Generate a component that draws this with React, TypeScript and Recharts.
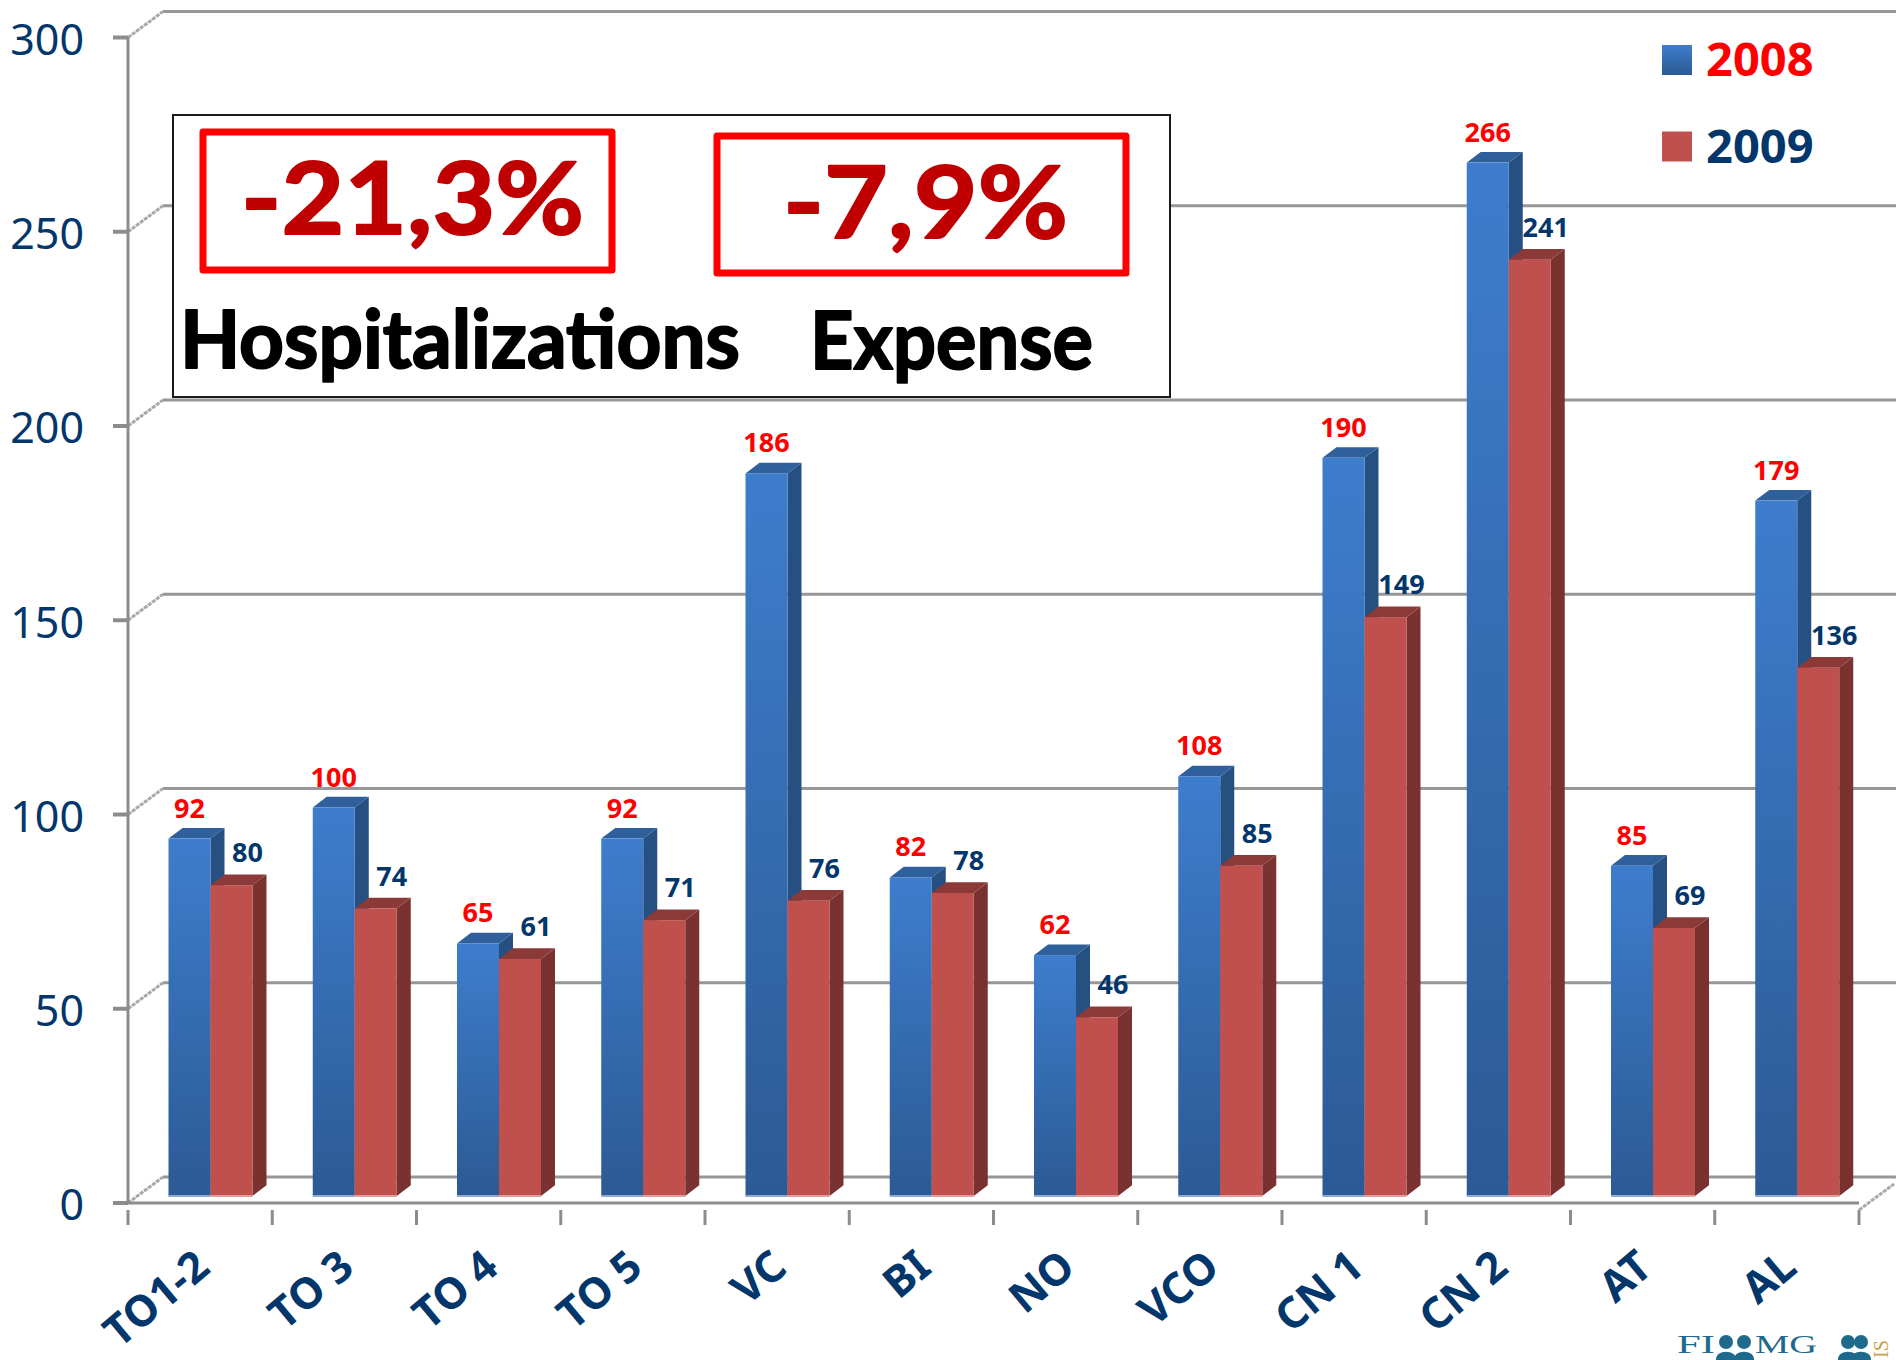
import React from "react";
import { ComposedChart, Bar, XAxis, YAxis, CartesianGrid, LabelList } from "recharts";

const categories = ["TO1-2", "TO 3", "TO 4", "TO 5", "VC", "BI", "NO", "VCO", "CN 1", "CN 2", "AT", "AL"];
const values2008 = [92, 100, 65, 92, 186, 82, 62, 108, 190, 266, 85, 179];
const values2009 = [80, 74, 61, 71, 76, 78, 46, 85, 149, 241, 69, 136];
const yTicks = [0, 50, 100, 150, 200, 250, 300];
const legendItems = [
  { label: "2008", swatch: "url(#blueFace)", color: "#ff0000" },
  { label: "2009", swatch: "#c0504d", color: "#03366b" },
];

const data = categories.map((name, i) => ({ name, y2008: values2008[i], y2009: values2009[i] }));

const W = 1896;
const H = 1360;
const AXIS_GREY = "#8c8c8c";
const NAVY = "#03366b";
const SANS = "'Noto Sans', sans-serif";
const COMIC = "'Comic Sans MS', Lato, sans-serif";
const WALL_DX = 35;
const WALL_DY = 26;
const BAR_DX = 10.5;
const BAR_DY = -7;
const DEPTH_X = 14;
const DEPTH_Y = 10.7;
const STEP = (1859 - 128) / 12;

function box3d(p: any, front: string, side: string, top: string, edge: string) {
  const x = p.x + BAR_DX;
  const y = p.y + BAR_DY;
  const w = p.width;
  const h = p.height;
  return (
    <g>
      <polygon
        points={`${x + w},${y} ${x + w + DEPTH_X},${y - DEPTH_Y} ${x + w + DEPTH_X},${y + h - DEPTH_Y} ${x + w},${y + h}`}
        fill={side}
      />
      <polygon
        points={`${x},${y} ${x + DEPTH_X},${y - DEPTH_Y} ${x + w + DEPTH_X},${y - DEPTH_Y} ${x + w},${y}`}
        fill={top}
      />
      <rect x={x} y={y} width={w} height={h} fill={front} />
      <rect x={x} y={y + h - 1} width={w} height={2} fill={edge} />
    </g>
  );
}

const BlueBox = (p: any) => box3d(p, "url(#blueFace)", "#264f82", "#2f609c", "#8fabd2");
const RedBox = (p: any) => box3d(p, "#c0504d", "#7a3230", "#8c3a38", "#e39d9b");

function dataLabel(color: string, dx: number, dy: number) {
  return (p: any) => (
    <text
      x={p.x + p.width / 2 + BAR_DX + dx}
      y={p.y + BAR_DY + dy}
      textAnchor="middle"
      fontFamily={SANS}
      fontWeight={700}
      fontSize={27}
      fill={color}
    >
      {p.value}
    </text>
  );
}

function gridLine(p: any) {
  const { x1, y1 } = p;
  return (
    <g key={p.key}>
      <line x1={x1 + WALL_DX} y1={y1 - WALL_DY} x2={W} y2={y1 - WALL_DY} stroke="#979797" strokeWidth={3} />
      <line
        x1={x1}
        y1={y1}
        x2={x1 + WALL_DX}
        y2={y1 - WALL_DY}
        stroke="#a8a8a8"
        strokeWidth={3}
        strokeDasharray="4 1"
      />
    </g>
  );
}

function XTick(p: any) {
  const { x, y, index, payload } = p;
  const last = index === categories.length - 1;
  const boundary = x - STEP / 2;
  const end = x + STEP / 2;
  const ax = x + 12;
  const ay = y + 60;
  return (
    <g>
      <line x1={boundary} y1={y - 1} x2={boundary} y2={y + 14} stroke={AXIS_GREY} strokeWidth={3} />
      {last ? (
        <>
          <line x1={end} y1={y - 1} x2={end} y2={y + 14} stroke={AXIS_GREY} strokeWidth={3} />
          <line
            x1={end}
            y1={y - 1}
            x2={end + WALL_DX}
            y2={y - 1 - WALL_DY}
            stroke="#a8a8a8"
            strokeWidth={3}
            strokeDasharray="4 1"
          />
        </>
      ) : null}
      <text
        x={ax}
        y={ay}
        textAnchor="end"
        transform={`rotate(-40 ${ax} ${ay})`}
        fontFamily={SANS}
        fontWeight={700}
        fontSize={43}
        fill={NAVY}
      >
        {payload.value}
      </text>
    </g>
  );
}

function Overlay() {
  const boxed = { fill: "none", stroke: "#ff0000", strokeWidth: 7, strokeLinejoin: "round" as const };
  const pct = {
    fontFamily: COMIC,
    fontWeight: 700,
    fontSize: 100,
    fill: "#c00000",
    stroke: "#c00000",
    strokeWidth: 2,
    strokeLinejoin: "round" as const,
    lengthAdjust: "spacingAndGlyphs" as const,
  };
  const caption = {
    fontFamily: COMIC,
    fontWeight: 700,
    fontSize: 80,
    fill: "#000000",
    stroke: "#000000",
    strokeWidth: 2,
    strokeLinejoin: "round" as const,
    lengthAdjust: "spacingAndGlyphs" as const,
  };
  const serif = {
    fontFamily: "'Liberation Serif', serif",
    fontSize: 26,
    lengthAdjust: "spacingAndGlyphs" as const,
  };
  return (
    <svg width={W} height={H} style={{ position: "absolute", left: 0, top: 0, pointerEvents: "none" }}>
      {legendItems.map((item, i) => (
        <g key={item.label} transform={`translate(1662 ${45 + i * 86.5})`}>
          <rect x={0} y={0} width={30} height={30} fill={item.swatch} />
          <text x={44} y={31} fontFamily={SANS} fontWeight={700} fontSize={47} fill={item.color}>
            {item.label}
          </text>
        </g>
      ))}
      <rect x={173} y={115} width={997} height={282} fill="#ffffff" stroke="#1a1a1a" strokeWidth={2} />
      <rect x={203} y={132} width={409} height={138} {...boxed} />
      <rect x={717} y={136} width={409} height={137} {...boxed} />
      <text x={241} y={234} textLength={343} {...pct}>
        -21,3%
      </text>
      <text x={783} y={238} textLength={285} {...pct}>
        -7,9%
      </text>
      <text x={180} y={368} textLength={560} {...caption}>
        Hospitalizations
      </text>
      <text x={810} y={369} textLength={283} {...caption}>
        Expense
      </text>
      <g fill="#1f6a8c">
        <text x={1677} y={1353} textLength={38} {...serif}>
          FI
        </text>
        <text x={1755} y={1353} textLength={62} {...serif}>
          MG
        </text>
        {[1726, 1744, 1848, 1861].map((cx) => (
          <g key={cx}>
            <circle cx={cx} cy={1342} r={7} />
            <path d={`M${cx - 10} 1360 C${cx - 11} 1349 ${cx + 11} 1349 ${cx + 10} 1360 Z`} />
          </g>
        ))}
        <text
          x={0}
          y={0}
          transform="translate(1888 1358) rotate(-90)"
          fontFamily="'Liberation Serif', serif"
          fontSize={20}
          fill="#c9a24a"
        >
          IS
        </text>
      </g>
    </svg>
  );
}

export default function App() {
  return (
    <div style={{ position: "absolute", left: 0, top: 0, width: W, height: H, overflow: "hidden", background: "#fff" }}>
      <ComposedChart
        width={W}
        height={H}
        data={data}
        barGap={0}
        barSize={42}
        margin={{ top: 37.5, right: 37, bottom: 0, left: 0 }}
      >
        <defs>
          <linearGradient id="blueFace" x1="0" y1="0" x2="0" y2="1">
            <stop offset="0" stopColor="#3e7dcd" />
            <stop offset="1" stopColor="#2c5a94" />
          </linearGradient>
        </defs>
        <CartesianGrid vertical={false} horizontal={gridLine as any} />
        <XAxis
          dataKey="name"
          interval={0}
          height={157}
          tickLine={false}
          axisLine={{ stroke: AXIS_GREY, strokeWidth: 3 }}
          tick={<XTick />}
        />
        <YAxis
          domain={[0, 300]}
          ticks={yTicks}
          width={128}
          interval={0}
          tickSize={15}
          tickMargin={29}
          axisLine={{ stroke: AXIS_GREY, strokeWidth: 3 }}
          tickLine={{ stroke: AXIS_GREY, strokeWidth: 4 }}
          tick={{ fontFamily: SANS, fontSize: 43, fill: NAVY, dy: 2 }}
        />
        <Bar dataKey="y2008" isAnimationActive={false} shape={BlueBox}>
          <LabelList dataKey="y2008" content={dataLabel("#ff0000", 0, -21) as any} />
        </Bar>
        <Bar dataKey="y2009" isAnimationActive={false} shape={RedBox}>
          <LabelList dataKey="y2009" content={dataLabel(NAVY, 16, -23) as any} />
        </Bar>
      </ComposedChart>
      <Overlay />
    </div>
  );
}
